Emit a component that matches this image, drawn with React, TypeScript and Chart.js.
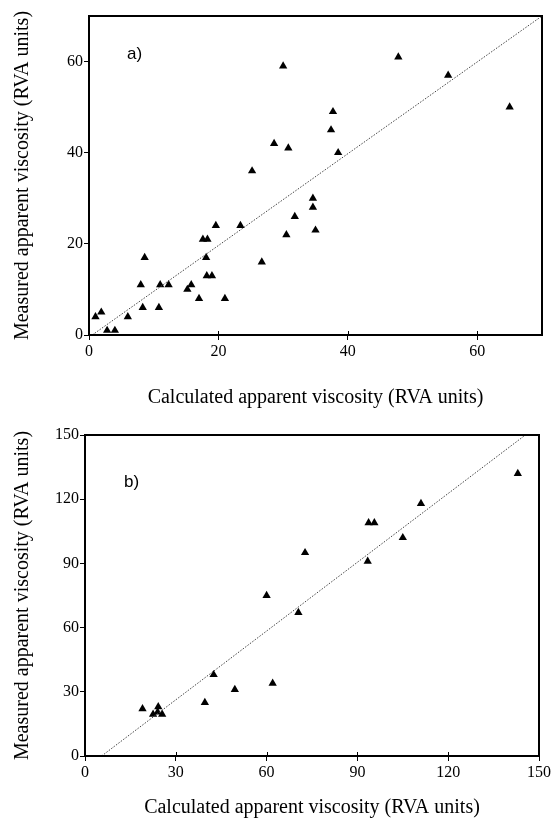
import React, { useEffect, useRef } from 'react';
import { Chart, registerables } from 'chart.js';

Chart.register(...registerables);

// Panel a) data
const aCalc = [1, 1.9, 2.8, 4, 6, 8, 8.3, 8.6, 10.8, 11, 12.3, 15.2, 15.8, 17, 17.6, 18.1, 18.2, 18.3, 19, 19.6, 21, 23.4, 25.2, 26.7, 28.6, 30, 30.5, 30.8, 31.8, 34.6, 34.6, 35, 37.4, 37.7, 38.5, 47.8, 55.5, 65];
const aMeas = [4, 5, 1, 1, 4, 11, 6, 17, 6, 11, 11, 10, 11, 8, 21, 17, 13, 21, 13, 24, 8, 24, 36, 16, 42, 59, 22, 41, 26, 30, 28, 23, 45, 49, 40, 61, 57, 50];
const aFitX = [0.5, 70];
const aFitY = [0, 70];
const aTicks = [0, 20, 40, 60];

// Panel b) data
const bCalc = [19, 22.5, 24.2, 25.5, 24, 39.6, 42.5, 49.5, 60, 62, 70.5, 72.7, 93.4, 93.7, 95.6, 105, 111, 143];
const bMeas = [22, 19.5, 23, 19.5, 20.5, 25, 38, 31, 75, 34, 67, 95, 91, 109, 109, 102, 118, 132];
const bFitX = [5.5, 145.5];
const bFitY = [0, 150];
const bTicks = [0, 30, 60, 90, 120, 150];

const xTitle = 'Calculated apparent viscosity (RVA units)';
const yTitle = 'Measured apparent viscosity (RVA units)';

const SERIF = "'Liberation Serif', 'DejaVu Serif', serif";

type PanelOpts = {
  label: string;
  calc: number[];
  meas: number[];
  fitX: number[];
  fitY: number[];
  ticks: number[];
  max: number;
  padTop: number;
  padRight: number;
  yWidth: number;
  xHeight: number;
  xTitlePad: number;
  labelDx: number;
  labelDy: number;
};

const framePlugin = {
  id: 'frame',
  afterDraw(chart: any, _args: any, opts: any) {
    const { ctx, chartArea } = chart;
    const { left, right, top, bottom } = chartArea;
    ctx.save();
    ctx.strokeStyle = '#000';
    ctx.lineWidth = 2;
    ctx.strokeRect(left, top, right - left, bottom - top);
    // inner part of x ticks
    ctx.lineWidth = 1;
    const xs = chart.scales.x;
    xs.ticks.forEach((t: any) => {
      const px = Math.round(xs.getPixelForValue(t.value)) + 0.5;
      ctx.beginPath();
      ctx.moveTo(px, bottom);
      ctx.lineTo(px, bottom - 4);
      ctx.stroke();
    });
    ctx.fillStyle = '#000';
    ctx.font = "17px 'Liberation Sans', Arial, sans-serif";
    ctx.textAlign = 'left';
    ctx.textBaseline = 'middle';
    ctx.fillText(opts.label, left + opts.dx, top + opts.dy);
    ctx.restore();
  },
};

function makeConfig(o: PanelOpts): any {
  const tickFont = { family: SERIF, size: 16 };
  const titleFont = { family: SERIF, size: 20 };
  const fixTicks = (scale: any) => {
    scale.ticks = o.ticks.map((v) => ({ value: v }));
  };
  return {
    type: 'scatter',
    data: {
      datasets: [
        {
          type: 'line',
          data: o.fitX.map((x, i) => ({ x, y: o.fitY[i] })),
          borderColor: '#444',
          borderWidth: 1,
          borderDash: [1.5, 1.5],
          pointRadius: 0,
          fill: false,
        },
        {
          type: 'scatter',
          data: o.calc.map((x, i) => ({ x, y: o.meas[i] })),
          pointStyle: 'triangle',
          pointRadius: 4.8,
          backgroundColor: '#000',
          borderColor: '#000',
          borderWidth: 0,
        },
      ],
    },
    options: {
      responsive: false,
      animation: false,
      events: [],
      layout: { padding: { top: o.padTop, right: o.padRight, left: 0, bottom: 0 } },
      plugins: {
        legend: { display: false },
        tooltip: { enabled: false },
        frame: { label: o.label, dx: o.labelDx, dy: o.labelDy },
      },
      scales: {
        x: {
          type: 'linear',
          min: 0,
          max: o.max,
          afterBuildTicks: fixTicks,
          afterFit: (s: any) => { s.height = o.xHeight; },
          ticks: { font: tickFont, color: '#000', padding: 2, maxRotation: 0 },
          grid: { display: true, drawOnChartArea: false, drawTicks: true, tickLength: 5, color: '#000', lineWidth: 1 },
          border: { display: true, color: '#000', width: 2 },
          title: { display: true, text: xTitle, font: titleFont, color: '#000', padding: { top: 0, bottom: o.xTitlePad } },
        },
        y: {
          type: 'linear',
          min: 0,
          max: o.max,
          afterBuildTicks: fixTicks,
          afterFit: (s: any) => { s.width = o.yWidth; },
          ticks: { font: tickFont, color: '#000', padding: 1 },
          grid: { display: true, drawOnChartArea: false, drawTicks: true, tickLength: 5, color: '#000', lineWidth: 1 },
          border: { display: true, color: '#000', width: 2 },
          title: { display: true, text: yTitle, font: titleFont, color: '#000', padding: { top: 11, bottom: 0 } },
        },
      },
    },
    plugins: [framePlugin],
  };
}

function Panel({ opts, width, height, top }: { opts: PanelOpts; width: number; height: number; top: number }) {
  const ref = useRef<HTMLCanvasElement | null>(null);
  useEffect(() => {
    if (!ref.current) return;
    const chart = new Chart(ref.current, makeConfig(opts));
    return () => chart.destroy();
  }, []);
  return (
    <canvas
      ref={ref}
      width={width}
      height={height}
      style={{ position: 'absolute', left: 0, top, width, height, display: 'block' }}
    />
  );
}

const panelA: PanelOpts = {
  label: 'a)', calc: aCalc, meas: aMeas, fitX: aFitX, fitY: aFitY, ticks: aTicks, max: 70,
  padTop: 16, padRight: 11, yWidth: 89, xHeight: 80, xTitlePad: 5, labelDx: 38, labelDy: 38,
};

const panelB: PanelOpts = {
  label: 'b)', calc: bCalc, meas: bMeas, fitX: bFitX, fitY: bFitY, ticks: bTicks, max: 150,
  padTop: 20, padRight: 14, yWidth: 85, xHeight: 71, xTitlePad: 7, labelDx: 39, labelDy: 47,
};

export default function App() {
  return (
    <div style={{ position: 'absolute', left: 0, top: 0, width: 553, height: 827, background: '#fff' }}>
      <Panel opts={panelA} width={553} height={415} top={0} />
      <Panel opts={panelB} width={553} height={412} top={415} />
    </div>
  );
}
